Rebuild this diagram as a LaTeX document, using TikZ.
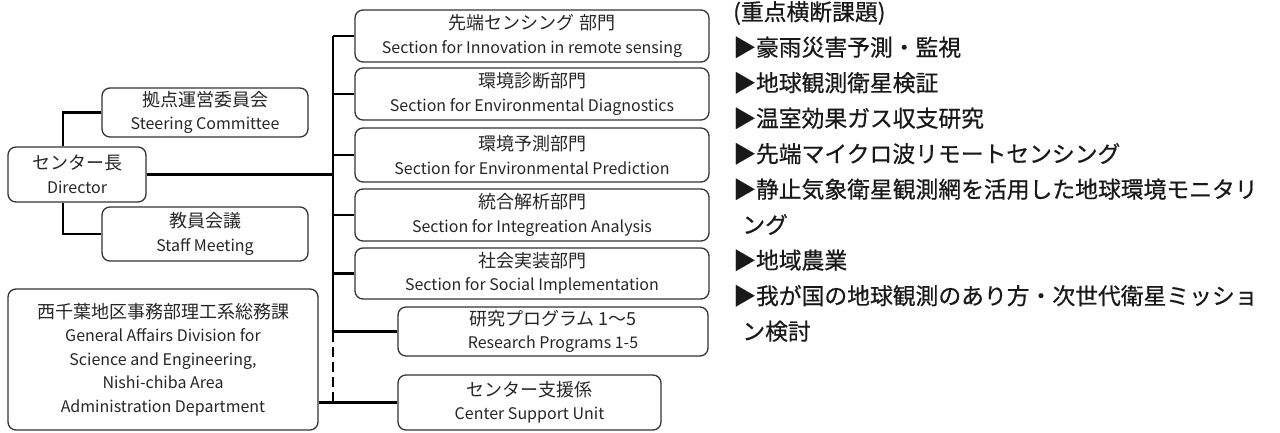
\documentclass[tikz,border=0pt]{standalone}
\usepackage{fontspec}
\setmainfont{Noto Sans CJK JP}
\newfontfamily\jp{Noto Sans CJK JP}
\newfontfamily\jpb[FakeBold=0.6]{Noto Sans CJK JP}
\usetikzlibrary{calc}
\tikzset{
  box/.style={draw=black!80, line width=1.3pt, rounded corners=8pt, align=center, inner sep=0pt, text=black!85, font=\jp\fontsize{16}{23.5}\selectfont},
  conn/.style={draw=black, line width=2.6pt},
  dconn/.style={draw=black, line width=2.6pt, dash pattern=on 10pt off 5pt},
}
\newcommand{\J}[1]{{\fontsize{18}{23.5}\selectfont #1}}
\begin{document}
\begin{tikzpicture}[x=1pt,y=-1pt]
\useasboundingbox (0,0) rectangle (1280,432);
% left side
\node[box, minimum width=206, minimum height=49] (steer) at (205,112.5) {\J{拠点運営委員会}\\Steering Committee};
\node[box, minimum width=138, minimum height=55] (dir) at (77,174.5) {\J{センター長}\\Director};
\node[box, minimum width=206, minimum height=54] (staff) at (205,234) {\J{教員会議}\\Staff Meeting};
\node[box, minimum width=310, minimum height=141] (ga) at (163,359.5) {\J{西千葉地区事務部理工系総務課}\\General Affairs Division for\\Science and Engineering,\\Nishi-chiba Area\\Administration Department};
% right side
\node[box, minimum width=354, minimum height=52] (s1) at (532,36) {\J{先端センシング 部門}\\Section for Innovation in remote sensing};
\node[box, minimum width=354, minimum height=52] (s2) at (532,94) {\J{環境診断部門}\\Section for Environmental Diagnostics};
\node[box, minimum width=354, minimum height=54] (s3) at (532,155) {\J{環境予測部門}\\Section for Environmental Prediction};
\node[box, minimum width=354, minimum height=52] (s4) at (532,215) {\J{統合解析部門}\\Section for Integreation Analysis};
\node[box, minimum width=354, minimum height=51] (s5) at (532,273.5) {\J{社会実装部門}\\Section for Social Implementation};
\node[box, minimum width=310, minimum height=49] (rp) at (553,331.5) {\J{研究プログラム 1〜5}\\Research Programs 1-5};
\node[box, minimum width=263, minimum height=55] (cs) at (529.5,402.5) {\J{センター支援係}\\Center Support Unit};
% connectors
\coordinate (lbus) at (63,0);
\coordinate (bus) at (333,0);
\draw[conn] (steer.west) -| (lbus |- dir.north);
\draw[conn] (lbus |- dir.south) |- (staff.west);
\draw[conn] (dir.east) -- (bus |- dir.east);
\draw[conn] (bus |- s1.west) -- (bus |- rp.west);
\foreach \n in {s1,s2,s3,s4,s5,rp}{
  \draw[conn] (bus |- \n.west) -- (\n.west);
}
\draw[dconn] (bus |- rp.west) -- (bus |- cs.west);
\draw[conn] (ga.east |- cs.west) -- (cs.west);
% list
\node[anchor=north west, align=left, inner sep=0pt, font=\jpb\fontsize{22.8}{35.5}\selectfont, text=black!90] (list) at (733,1) {%
(重点横断課題)\\
▶豪雨災害予測・監視\\
▶地球観測衛星検証\\
▶温室効果ガス収支研究\\
▶先端マイクロ波リモートセンシング\\
▶静止気象衛星観測網を活用した地球環境モニタリ\\
\hspace*{0.4em}ング\\
▶地域農業\\
▶我が国の地球観測のあり方・次世代衛星ミッショ\\
\hspace*{0.4em}ン検討};
\end{tikzpicture}
\end{document}
